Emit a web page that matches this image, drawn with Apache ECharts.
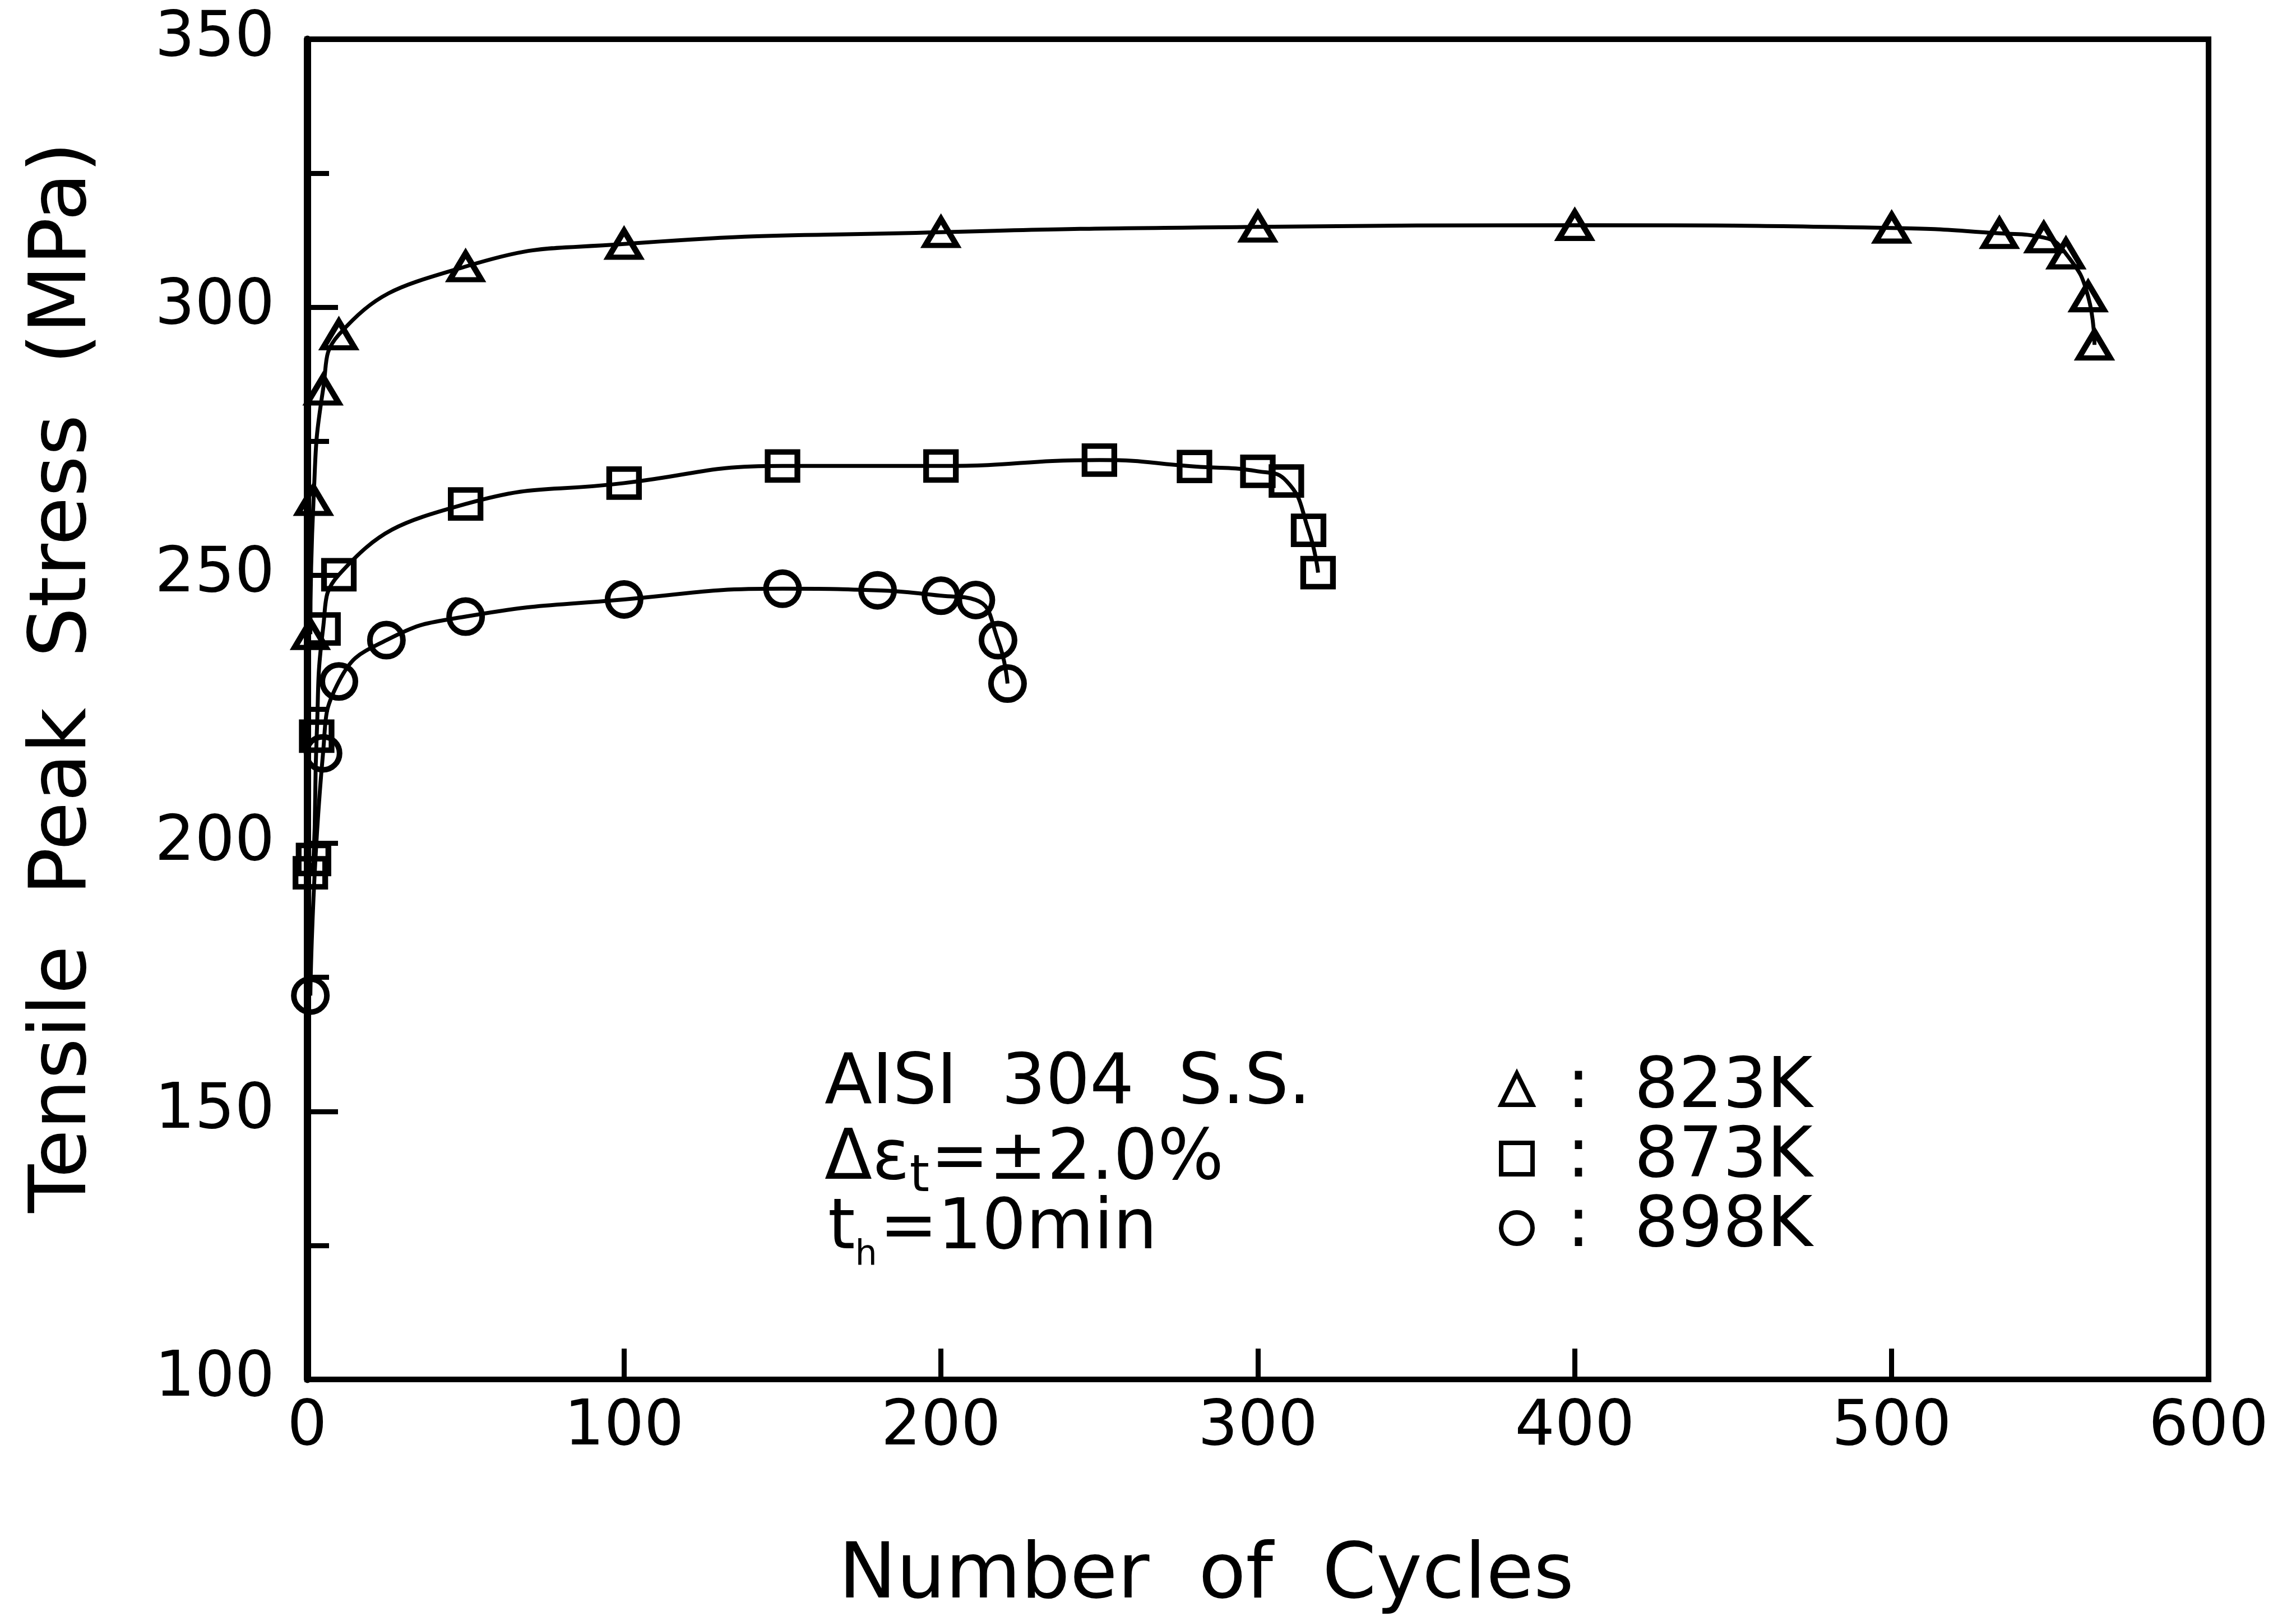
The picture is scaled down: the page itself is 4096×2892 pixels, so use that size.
<!DOCTYPE html>
<html>
<head>
<meta charset="utf-8">
<script src="https://cdn.jsdelivr.net/npm/echarts@6/dist/echarts.min.js"></script>
<style>
html,body{margin:0;padding:0;background:#fff;}
#c{width:4096px;height:2892px;}
</style>
</head>
<body>
<div id="c"></div>
<script>
// ---- data ----
const seriesNames = ['823K', '873K', '898K'];

const cycles823 = [1, 2, 5, 10, 50, 100, 200, 300, 400, 500, 534, 548, 555, 562, 564];
const stress823 = [239, 264, 284.6, 294.9, 307.6, 311.8, 314.0, 315.0, 315.3, 314.8, 313.8, 313.0, 310.0, 302.0, 293.0];

const cycles873 = [1, 2, 3, 5, 10, 50, 100, 150, 200, 250, 280, 300, 309, 316, 319];
const stress873 = [194.5, 197, 220, 240, 250.1, 263.3, 267.2, 270.4, 270.4, 271.5, 270.3, 269.4, 267.6, 258.4, 250.5];

const cycles898 = [1, 5, 10, 25, 50, 100, 150, 180, 200, 211, 218, 221];
const stress898 = [171.6, 216.8, 230.2, 237.9, 242.3, 245.5, 247.5, 247.2, 246.2, 245.4, 237.9, 229.8];

const xTicks = [0, 100, 200, 300, 400, 500, 600];
const yTicks = [100, 150, 200, 250, 300, 350];

const xTitle = 'Number  of  Cycles';
const yTitle = 'Tensile  Peak  Stress  (MPa)';
const noteLine1 = 'AISI  304  S.S.';
const noteLine2 = ['Δε', 't', '=±2.0%'];
const noteLine3 = ['t', 'h', '=10min'];

// ---- chart ----
const FONT = '"DejaVu Sans", sans-serif';
const BLACK = '#000';
const pairs = (xs, ys) => xs.map((x, i) => [x, ys[i]]);

function curve(name, xs, ys, symbol, size) {
  return {
    name: name,
    type: 'line',
    data: pairs(xs, ys),
    smooth: 0.5,
    symbol: symbol,
    symbolSize: size,
    showAllSymbol: true,
    lineStyle: { color: BLACK, width: 7 },
    itemStyle: { color: 'rgba(0,0,0,0)', borderColor: BLACK, borderWidth: 10 },
    emphasis: { disabled: true },
    animation: false
  };
}

const chart = echarts.init(document.getElementById('c'), null, { renderer: 'canvas' });

const option = {
  backgroundColor: '#fff',
  animation: false,
  grid: {
    left: 548, right: 156, top: 70, bottom: 431,
    show: true, borderColor: BLACK, borderWidth: 10,
    containLabel: false, outerBoundsMode: 'none'
  },
  xAxis: {
    type: 'value',
    min: xTicks[0], max: xTicks[xTicks.length - 1], interval: xTicks[1] - xTicks[0],
    axisLine: { show: true, onZero: false, lineStyle: { color: BLACK, width: 10 } },
    axisTick: { show: true, inside: true, length: 55, lineStyle: { color: BLACK, width: 9 } },
    axisLabel: { fontSize: 112, fontFamily: FONT, color: BLACK, margin: 31, lineHeight: 112 },
    splitLine: { show: false },
    name: xTitle,
    nameLocation: 'middle',
    nameGap: 284,
    nameTextStyle: { fontSize: 138, fontFamily: FONT, color: BLACK, lineHeight: 138, padding: [0, 184, 0, 0] }
  },
  yAxis: {
    type: 'value',
    min: yTicks[0], max: yTicks[yTicks.length - 1], interval: yTicks[1] - yTicks[0],
    axisLine: { show: true, onZero: false, lineStyle: { color: BLACK, width: 13 } },
    axisTick: { show: true, inside: true, length: 55, lineStyle: { color: BLACK, width: 9 } },
    minorTick: { show: true, splitNumber: 2, length: 39, lineStyle: { color: BLACK, width: 9 } },
    axisLabel: { fontSize: 112, fontFamily: FONT, color: BLACK, margin: 58 },
    splitLine: { show: false },
    minorSplitLine: { show: false },
    name: yTitle,
    nameLocation: 'middle',
    nameRotate: 90,
    nameGap: 362,
    nameTextStyle: { fontSize: 141, fontFamily: FONT, color: BLACK, lineHeight: 141, padding: [0, 0, 0, 114] }
  },
  legend: {
    orient: 'vertical',
    left: 2669, top: 1876,
    itemWidth: 56, itemHeight: 56, itemGap: 0,
    selectedMode: false,
    data: [
      { name: seriesNames[0], icon: 'triangle' },
      { name: seriesNames[1], icon: 'rect' },
      { name: seriesNames[2], icon: 'circle' }
    ],
    itemStyle: { color: 'rgba(0,0,0,0)', borderColor: BLACK, borderWidth: 8 },
    lineStyle: { width: 0 },
    formatter: ':  {name}',
    textStyle: { fontSize: 124, fontFamily: FONT, color: BLACK, lineHeight: 56, padding: [0, 0, 0, 56] }
  },
  graphic: [
    {
      type: 'text', x: 1471, y: 1874, silent: true,
      style: { text: noteLine1, font: '124px ' + FONT, fill: BLACK, align: 'left', verticalAlign: 'top', lineHeight: 124 }
    },
    {
      type: 'text', x: 1471, y: 2009, silent: true,
      style: {
        text: '{n|' + noteLine2[0] + '}{s|' + noteLine2[1] + '}{n|' + noteLine2[2] + '}',
        align: 'left', verticalAlign: 'top', fill: BLACK,
        rich: {
          n: { fontSize: 124, fontFamily: FONT, lineHeight: 124, verticalAlign: 'top', fill: BLACK },
          s: { fontSize: 90, fontFamily: FONT, lineHeight: 90, verticalAlign: 'top', padding: [48, 2, 0, 0], fill: BLACK }
        }
      }
    },
    {
      type: 'text', x: 1477, y: 2133, silent: true,
      style: {
        text: '{n|' + noteLine3[0] + '}{s|' + noteLine3[1] + '}{n|' + noteLine3[2] + '}',
        align: 'left', verticalAlign: 'top', fill: BLACK,
        rich: {
          n: { fontSize: 124, fontFamily: FONT, lineHeight: 124, verticalAlign: 'top', fill: BLACK },
          s: { fontSize: 62, fontFamily: FONT, lineHeight: 62, verticalAlign: 'top', padding: [76, 4, 0, 0], fill: BLACK }
        }
      }
    }
  ],
  series: [
    curve(seriesNames[0], cycles823, stress823, 'triangle', [56, 47]),
    curve(seriesNames[1], cycles873, stress873, 'rect', [53, 50]),
    curve(seriesNames[2], cycles898, stress898, 'circle', 59)
  ]
};

chart.setOption(option);
</script>
</body>
</html>
